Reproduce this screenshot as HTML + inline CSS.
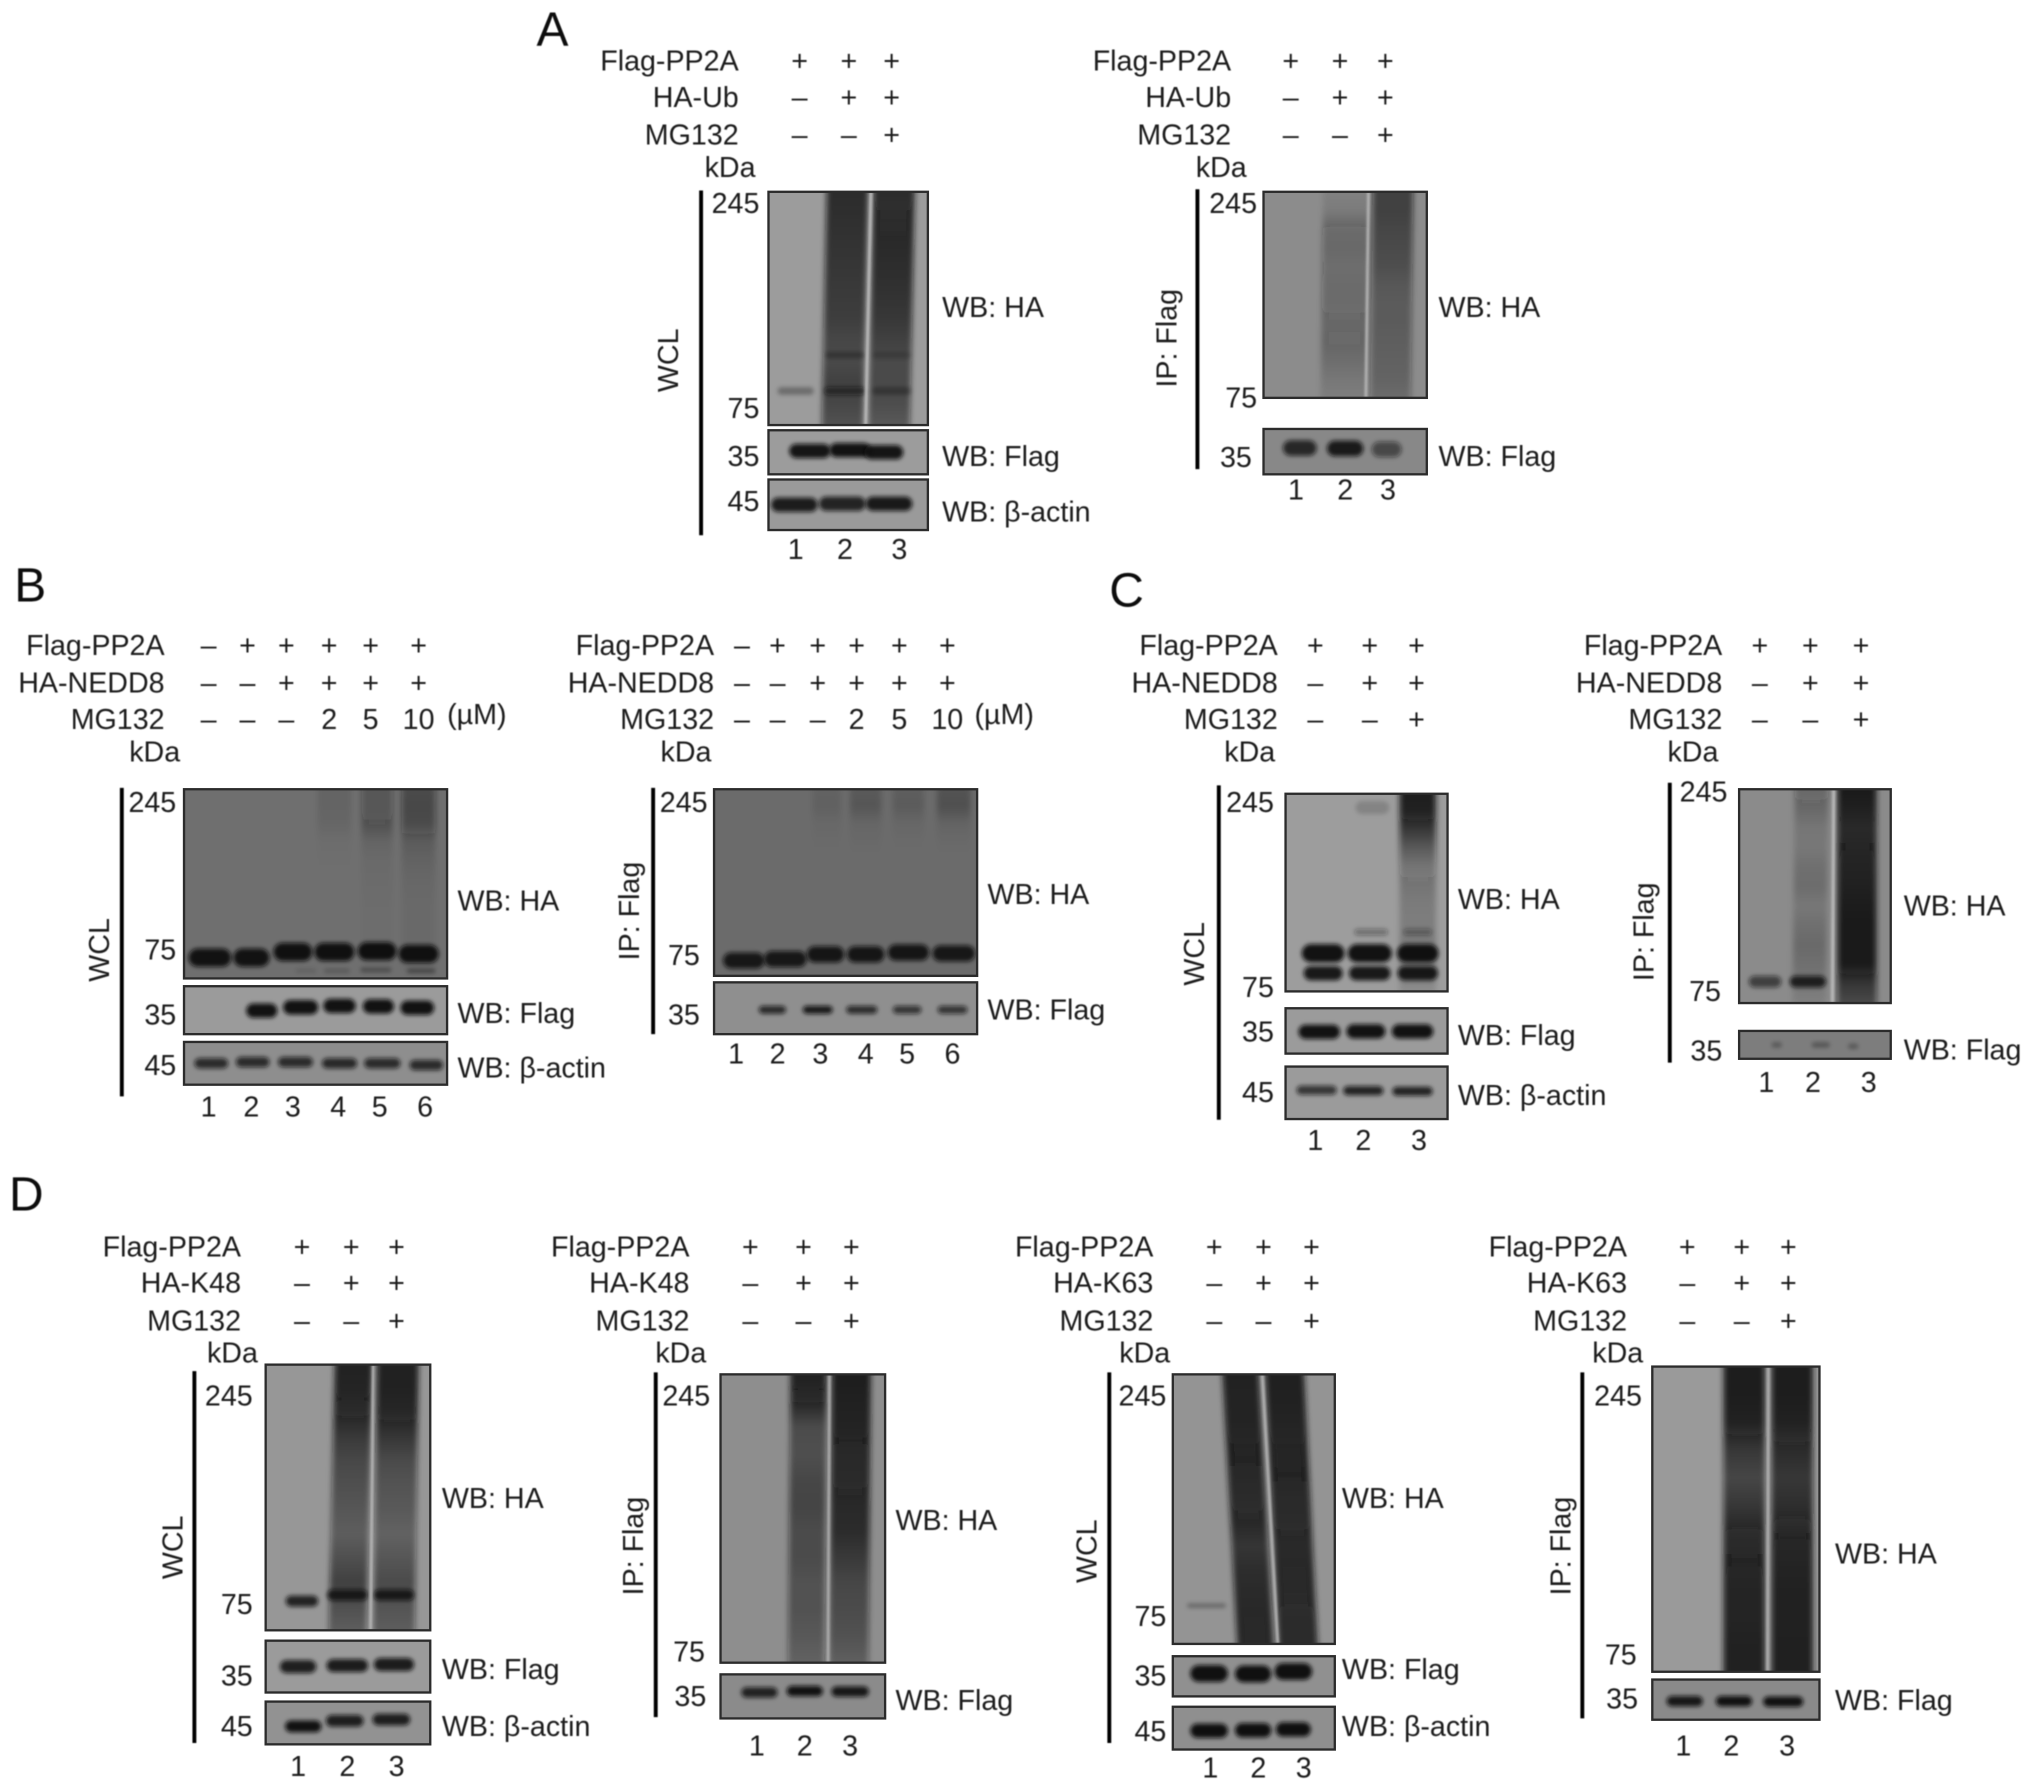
<!DOCTYPE html>
<html lang="en">
<head>
<meta charset="utf-8">
<title>Western blots: PP2A ubiquitination and neddylation</title>
<style>
html,body{margin:0;padding:0;background:#fff}
svg{display:block}
text{font-family:"Liberation Sans",sans-serif;font-size:22.1px;fill:#1c1c1c}
.e{text-anchor:end}
.m{text-anchor:middle}
.p{font-size:37px;fill:#111}
</style>
</head>
<body>
<svg id="figure" xmlns="http://www.w3.org/2000/svg" width="2032" height="1791" viewBox="0 0 1568 1382" preserveAspectRatio="none">
<defs id="defs">
<filter id="bandBlur" x="-30%" y="-100%" width="160%" height="300%"><feGaussianBlur stdDeviation="1.7"/></filter>
<filter id="smearBlur" x="-30%" y="-5%" width="160%" height="110%"><feGaussianBlur stdDeviation="2.2"/></filter>
<filter id="gapBlur" x="-200%" y="-5%" width="500%" height="110%"><feGaussianBlur stdDeviation="0.9"/></filter>
<filter id="soft" x="-5%" y="-5%" width="110%" height="110%"><feGaussianBlur stdDeviation="0.35"/></filter>
</defs>
<g id="blots"></g>
<g id="labels" filter="url(#soft)">
<text x="414" y="35" class="p">A</text>
<text x="11" y="464" class="p">B</text>
<text x="856" y="468" class="p">C</text>
<text x="7" y="934" class="p">D</text>

<!-- Panel A left -->
<text x="570" y="54.5" class="e">Flag-PP2A</text>
<text x="570" y="82.5" class="e">HA-Ub</text>
<text x="570" y="111.5" class="e">MG132</text>
<text x="583" y="136.5" class="e">kDa</text>
<line x1="541" y1="147" x2="541" y2="413" stroke="#000" stroke-width="3"/>
<text transform="translate(523 278) rotate(-90)" class="m">WCL</text>
<text x="727" y="244.5">WB: HA</text>
<text x="727" y="359.5">WB: Flag</text>
<text x="727" y="402.5">WB: β-actin</text>

<!-- Panel A right -->
<text x="950" y="54.5" class="e">Flag-PP2A</text>
<text x="950" y="82.5" class="e">HA-Ub</text>
<text x="950" y="111.5" class="e">MG132</text>
<text x="962" y="136.5" class="e">kDa</text>
<line x1="924" y1="146" x2="924" y2="362" stroke="#000" stroke-width="3"/>
<text transform="translate(908 261) rotate(-90)" class="m">IP: Flag</text>
<text x="1110" y="244.5">WB: HA</text>
<text x="1110" y="359.5">WB: Flag</text>

<!-- Panel B left -->
<text x="127" y="505.5" class="e">Flag-PP2A</text>
<text x="127" y="534.5" class="e">HA-NEDD8</text>
<text x="127" y="562.5" class="e">MG132</text>
<text x="345" y="558.5">(µM)</text>
<text x="139" y="587.5" class="e">kDa</text>
<line x1="94" y1="608" x2="94" y2="846" stroke="#000" stroke-width="3"/>
<text transform="translate(84 733) rotate(-90)" class="m">WCL</text>
<text x="353" y="702.5">WB: HA</text>
<text x="353" y="789.5">WB: Flag</text>
<text x="353" y="831.5">WB: β-actin</text>

<!-- Panel B right -->
<text x="551" y="505.5" class="e">Flag-PP2A</text>
<text x="551" y="534.5" class="e">HA-NEDD8</text>
<text x="551" y="562.5" class="e">MG132</text>
<text x="752" y="558.5">(µM)</text>
<text x="549" y="587.5" class="e">kDa</text>
<line x1="504" y1="608" x2="504" y2="798" stroke="#000" stroke-width="3"/>
<text transform="translate(493 703) rotate(-90)" class="m">IP: Flag</text>
<text x="762" y="697.5">WB: HA</text>
<text x="762" y="786.5">WB: Flag</text>

<!-- Panel C left -->
<text x="986" y="505.5" class="e">Flag-PP2A</text>
<text x="986" y="534.5" class="e">HA-NEDD8</text>
<text x="986" y="562.5" class="e">MG132</text>
<text x="984" y="587.5" class="e">kDa</text>
<line x1="940.5" y1="606" x2="940.5" y2="864" stroke="#000" stroke-width="3"/>
<text transform="translate(929 736) rotate(-90)" class="m">WCL</text>
<text x="1125" y="701.5">WB: HA</text>
<text x="1125" y="806.5">WB: Flag</text>
<text x="1125" y="852.5">WB: β-actin</text>

<!-- Panel C right -->
<text x="1329" y="505.5" class="e">Flag-PP2A</text>
<text x="1329" y="534.5" class="e">HA-NEDD8</text>
<text x="1329" y="562.5" class="e">MG132</text>
<text x="1326" y="587.5" class="e">kDa</text>
<line x1="1288.5" y1="604" x2="1288.5" y2="820" stroke="#000" stroke-width="3"/>
<text transform="translate(1276 719) rotate(-90)" class="m">IP: Flag</text>
<text x="1469" y="706.5">WB: HA</text>
<text x="1469" y="817.5">WB: Flag</text>

<!-- Panel D 1 -->
<text x="186" y="969.5" class="e">Flag-PP2A</text>
<text x="186" y="997.5" class="e">HA-K48</text>
<text x="186" y="1026.5" class="e">MG132</text>
<text x="199" y="1051.5" class="e">kDa</text>
<line x1="150" y1="1058" x2="150" y2="1345" stroke="#000" stroke-width="3"/>
<text transform="translate(141 1194) rotate(-90)" class="m">WCL</text>
<text x="341" y="1163.5">WB: HA</text>
<text x="341" y="1295.5">WB: Flag</text>
<text x="341" y="1339.5">WB: β-actin</text>

<!-- Panel D 2 -->
<text x="532" y="969.5" class="e">Flag-PP2A</text>
<text x="532" y="997.5" class="e">HA-K48</text>
<text x="532" y="1026.5" class="e">MG132</text>
<text x="545" y="1051.5" class="e">kDa</text>
<line x1="506" y1="1059" x2="506" y2="1325" stroke="#000" stroke-width="3"/>
<text transform="translate(496 1193) rotate(-90)" class="m">IP: Flag</text>
<text x="691" y="1180.5">WB: HA</text>
<text x="691" y="1319.5">WB: Flag</text>

<!-- Panel D 3 -->
<text x="890" y="969.5" class="e">Flag-PP2A</text>
<text x="890" y="997.5" class="e">HA-K63</text>
<text x="890" y="1026.5" class="e">MG132</text>
<text x="903" y="1051.5" class="e">kDa</text>
<line x1="856" y1="1059" x2="856" y2="1345" stroke="#000" stroke-width="3"/>
<text transform="translate(846 1197) rotate(-90)" class="m">WCL</text>
<text x="1035.5" y="1163.5">WB: HA</text>
<text x="1035.5" y="1295.5">WB: Flag</text>
<text x="1035.5" y="1339.5">WB: β-actin</text>

<!-- Panel D 4 -->
<text x="1255.5" y="969.5" class="e">Flag-PP2A</text>
<text x="1255.5" y="997.5" class="e">HA-K63</text>
<text x="1255.5" y="1026.5" class="e">MG132</text>
<text x="1268" y="1051.5" class="e">kDa</text>
<line x1="1221" y1="1059" x2="1221" y2="1326" stroke="#000" stroke-width="3"/>
<text transform="translate(1212 1193) rotate(-90)" class="m">IP: Flag</text>
<text x="1416" y="1206.5">WB: HA</text>
<text x="1416" y="1319.5">WB: Flag</text>
</g>
</svg>
<script>
/* ---------- treatment tables and tick labels ---------- */
const threeLaneSigns = [['+','+','+'],['–','+','+'],['–','–','+']];
const sixLaneSigns = [['–','+','+','+','+','+'],['–','–','+','+','+','+'],['–','–','–','2','5','10']];
const threeLaneNumbers = ['1','2','3'];
const sixLaneNumbers = ['1','2','3','4','5','6'];
const wclTicks = ['245','75','35','45'];
const ipTicks = ['245','75','35'];

/* ---------- band migration (Rf, 0 = top of blot, 1 = bottom) and density (0..1) ---------- */
const aWclHaBandRf = [0.854,0.854,0.854];
const aWclHaBandDensity = [0.3,0.6,0.3];
const aWclHaUpperRf = [0.70,0.70];
const aWclHaUpperDensity = [0.3,0.18];
const aWclFlagRf = [0.47,0.45,0.5];
const aWclFlagDensity = [0.95,0.97,0.95];
const aWclActinRf = [0.5,0.48,0.48];
const aWclActinDensity = [0.9,0.85,0.92];
const aIpFlagRf = [0.42,0.43,0.45];
const aIpFlagDensity = [0.8,0.9,0.55];

const bWclHaRf = [0.89,0.89,0.86,0.86,0.856,0.87];
const bWclHaDensity = [0.95,0.95,0.97,0.97,0.98,0.97];
const bWclHaLowerRf = [0.96,0.96,0.955,0.96];
const bWclHaLowerDensity = [0.12,0.2,0.32,0.38];
const bWclFlagRf = [0.51,0.44,0.41,0.42,0.45];
const bWclFlagDensity = [0.97,0.97,0.97,0.97,0.97];
const bWclActinRf = [0.5,0.47,0.47,0.5,0.5,0.54];
const bWclActinDensity = [0.78,0.78,0.78,0.8,0.78,0.78];
const bIpHaRf = [0.918,0.91,0.885,0.885,0.875,0.88];
const bIpHaDensity = [0.9,0.9,0.92,0.92,0.92,0.9];
const bIpFlagRf = [0.53,0.53,0.53,0.53,0.53];
const bIpFlagDensity = [0.8,0.92,0.78,0.72,0.72];

const cWclHaUpperRf = [0.807,0.807,0.807];
const cWclHaUpperDensity = [0.97,0.97,0.97];
const cWclHaLowerRf = [0.908,0.908,0.908];
const cWclHaLowerDensity = [0.92,0.92,0.92];
const cWclHaFaintRf = [0.70,0.70];
const cWclHaFaintDensity = [0.35,0.35];
const cWclHaTopRf = [0.07];
const cWclHaTopDensity = [0.16];
const cWclFlagRf = [0.52,0.51,0.51];
const cWclFlagDensity = [0.97,0.97,0.97];
const cWclActinRf = [0.45,0.46,0.47];
const cWclActinDensity = [0.72,0.85,0.85];
const cIpHaRf = [0.90,0.90];
const cIpHaDensity = [0.62,0.85];
const cIpFlagRf = [0.5,0.5,0.55];
const cIpFlagDensity = [0.3,0.32,0.3];

const dK48WclBandRf = [0.89,0.867,0.867];
const dK48WclBandDensity = [0.85,0.85,0.85];
const dK48WclFlagRf = [0.5,0.48,0.46];
const dK48WclFlagDensity = [0.88,0.9,0.9];
const dK48WclActinRf = [0.58,0.45,0.42];
const dK48WclActinDensity = [0.97,0.88,0.88];
const dK48IpFlagRf = [0.41,0.38,0.39];
const dK48IpFlagDensity = [0.85,0.97,0.92];

const dK63WclBandRf = [0.858];
const dK63WclBandDensity = [0.3];
const dK63WclFlagRf = [0.43,0.44,0.38];
const dK63WclFlagDensity = [0.98,0.98,0.98];
const dK63WclActinRf = [0.56,0.55,0.53];
const dK63WclActinDensity = [0.98,0.98,0.98];
const dK63IpFlagRf = [0.54,0.54,0.55];
const dK63IpFlagDensity = [0.92,0.97,0.97];

/* ---------- smear density profiles, sampled evenly from top to bottom of the blot ---------- */
const aWclSmear2 = [0.8,0.78,0.76,0.74,0.72,0.7,0.68,0.62,0.6,0.66,0.62,0.55];
const aWclSmear3 = [0.85,0.83,0.82,0.8,0.78,0.75,0.72,0.66,0.6,0.6,0.58,0.5];
const aIpSmear2 = [0.08,0.12,0.3,0.32,0.28,0.3,0.3,0.26,0.28,0.22,0.15,0.1];
const aIpSmear3 = [0.62,0.62,0.58,0.55,0.52,0.45,0.42,0.42,0.4,0.38,0.36,0.3];
const bWclSmear5 = [0.3,0.3,0.28,0.1,0.05,0.04,0.03,0.02,0.02,0.02,0.02,0];
const bWclSmear6 = [0.42,0.45,0.42,0.18,0.12,0.08,0.06,0.05,0.05,0.05,0.04,0];
const bWclSmear4 = [0.1,0.1,0.08,0.02,0.01,0,0,0,0,0,0,0];
const bIpSmear3 = [0.08,0.1,0.03,0.01,0,0,0,0,0,0,0,0];
const bIpSmear4 = [0.16,0.2,0.05,0.02,0,0,0,0,0,0,0,0];
const bIpSmear5 = [0.12,0.15,0.04,0.01,0,0,0,0,0,0,0,0];
const bIpSmear6 = [0.22,0.26,0.07,0.02,0,0,0,0,0,0,0,0];
const cWclSmear3 = [0.95,0.92,0.72,0.5,0.32,0.26,0.22,0.2,0.22,0.25,0.2,0.1];
const cIpSmear2 = [0.32,0.25,0.15,0.14,0.2,0.22,0.14,0.2,0.24,0.2,0.14,0.08];
const cIpSmear3 = [0.97,0.92,0.85,0.88,0.9,0.92,0.95,0.97,0.97,0.97,0.7,0.55];
const dK48WclSmear2 = [0.92,0.9,0.85,0.7,0.6,0.55,0.5,0.45,0.55,0.65,0.55,0.45];
const dK48WclSmear3 = [0.92,0.92,0.88,0.72,0.58,0.52,0.48,0.42,0.5,0.58,0.52,0.45];
const dK48IpSmear2 = [0.92,0.85,0.55,0.52,0.58,0.6,0.55,0.55,0.5,0.5,0.45,0.38];
const dK48IpSmear3 = [0.95,0.92,0.9,0.86,0.85,0.8,0.78,0.68,0.58,0.55,0.5,0.4];
const dK63WclSmear2 = [0.92,0.9,0.9,0.88,0.87,0.85,0.82,0.72,0.78,0.8,0.82,0.82];
const dK63WclSmear3 = [0.93,0.92,0.9,0.88,0.88,0.86,0.85,0.8,0.82,0.82,0.85,0.85];
const dK63IpSmear2 = [0.95,0.95,0.92,0.72,0.62,0.72,0.85,0.88,0.9,0.9,0.92,0.92];
const dK63IpSmear3 = [0.95,0.95,0.92,0.8,0.72,0.78,0.88,0.9,0.92,0.92,0.93,0.93];

/* ---------- blot layout (geometry only) ---------- */
const blotLayout = [
 {name:'a-wcl-ha',x:593,y:148,w:123,h:180,bg:'#9c9c9c',
  smears:[{top:654,bottom:650,w:32,data:aWclSmear2},{top:690,bottom:686,w:32,data:aWclSmear3}],
  gaps:[{top:672,bottom:668,w:2.5}],
  bands:[{xs:[614,652,688],ws:[28,32,30],h:6,rf:aWclHaBandRf,density:aWclHaBandDensity},
         {xs:[652,688],ws:[30,30],h:5,rf:aWclHaUpperRf,density:aWclHaUpperDensity}]},
 {name:'a-wcl-flag',x:593,y:332,w:123,h:34,bg:'#9c9c9c',
  bands:[{xs:[625,656,682],ws:[32,32,30],h:11,rf:aWclFlagRf,density:aWclFlagDensity}]},
 {name:'a-wcl-actin',x:593,y:370,w:123,h:39,bg:'#9a9a9a',
  bands:[{xs:[613,650,686],ws:[36,36,36],h:11,rf:aWclActinRf,density:aWclActinDensity}]},
 {name:'a-ip-ha',x:975,y:148,w:126,h:159,bg:'#8c8c8c',
  smears:[{top:1039,bottom:1037,w:36,data:aIpSmear2},{top:1075,bottom:1073,w:31,data:aIpSmear3}],
  gaps:[{top:1056,bottom:1054,w:2}]},
 {name:'a-ip-flag',x:975,y:331,w:126,h:35,bg:'#888888',
  bands:[{xs:[1003,1038,1070],ws:[26,28,23],h:12,rf:aIpFlagRf,density:aIpFlagDensity}]},

 {name:'b-wcl-ha',x:142,y:609,w:203,h:146,bg:'#6f6f6f',
  smears:[{top:258,bottom:258,w:26,data:bWclSmear4},{top:291,bottom:291,w:24,data:bWclSmear5},{top:323,bottom:323,w:26,data:bWclSmear6}],
  bands:[{xs:[162,194,226,258,291,323],ws:[33,28,30,31,30,31],h:14,rf:bWclHaRf,density:bWclHaDensity},
         {xs:[236,260,290,325],ws:[16,20,24,22],h:3.5,rf:bWclHaLowerRf,density:bWclHaLowerDensity}]},
 {name:'b-wcl-flag',x:142,y:761,w:203,h:37,bg:'#9b9b9b',
  bands:[{xs:[202,232,262,292,322],ws:[24,27,25,24,26],h:11,rf:bWclFlagRf,density:bWclFlagDensity}]},
 {name:'b-wcl-actin',x:142,y:804,w:203,h:33,bg:'#8e8e8e',
  bands:[{xs:[163,195,228,262,295,329],ws:[26,26,27,27,28,26],h:8,rf:bWclActinRf,density:bWclActinDensity}]},
 {name:'b-ip-ha',x:551,y:609,w:203,h:144,bg:'#6b6b6b',
  smears:[{top:638,bottom:638,w:22,data:bIpSmear3},{top:668,bottom:668,w:24,data:bIpSmear4},{top:701,bottom:701,w:24,data:bIpSmear5},{top:736,bottom:736,w:26,data:bIpSmear6}],
  bands:[{xs:[574,606,637,668,701,736],ws:[32,33,29,29,32,33],h:12.5,rf:bIpHaRf,density:bIpHaDensity}]},
 {name:'b-ip-flag',x:551,y:758,w:203,h:40,bg:'#8f8f8f',
  bands:[{xs:[596,631,665,700,735],ws:[21,23,24,22,23],h:6,rf:bIpFlagRf,density:bIpFlagDensity}]},

 {name:'c-wcl-ha',x:992,y:612.5,w:125,h:152.5,bg:'#9d9d9d',
  smears:[{top:1094,bottom:1094,w:28,data:cWclSmear3}],
  bands:[{xs:[1021,1057,1094],ws:[33,34,32],h:14,rf:cWclHaUpperRf,density:cWclHaUpperDensity},
         {xs:[1021,1057,1094],ws:[30,32,31],h:11,rf:cWclHaLowerRf,density:cWclHaLowerDensity},
         {xs:[1058,1094],ws:[26,22],h:5,rf:cWclHaFaintRf,density:cWclHaFaintDensity},
         {xs:[1059],ws:[26],h:10,rf:cWclHaTopRf,density:cWclHaTopDensity}]},
 {name:'c-wcl-flag',x:992,y:778,w:125,h:35,bg:'#9b9b9b',
  bands:[{xs:[1018,1054,1090],ws:[32,30,32],h:11,rf:cWclFlagRf,density:cWclFlagDensity}]},
 {name:'c-wcl-actin',x:992,y:823,w:125,h:40.5,bg:'#9b9b9b',
  bands:[{xs:[1016,1052,1090],ws:[31,31,31],h:7,rf:cWclActinRf,density:cWclActinDensity}]},
 {name:'c-ip-ha',x:1342,y:609,w:117,h:165,bg:'#8b8b8b',
  smears:[{top:1398,bottom:1396,w:26,data:cIpSmear2},{top:1433,bottom:1433,w:30,data:cIpSmear3}],
  gaps:[{top:1415,bottom:1414,w:2.5}],
  bands:[{xs:[1362,1395],ws:[25,28],h:9,rf:cIpHaRf,density:cIpHaDensity}]},
 {name:'c-ip-flag',x:1342,y:795.5,w:117,h:21.5,bg:'#7d7d7d',
  bands:[{xs:[1371,1405,1430],ws:[8,14,8],h:4,rf:cIpFlagRf,density:cIpFlagDensity}]},

 {name:'d-k48-wcl-ha',x:205,y:1053,w:127,h:205,bg:'#979797',
  smears:[{top:273,bottom:268,w:29,data:dK48WclSmear2},{top:307,bottom:304,w:32,data:dK48WclSmear3}],
  gaps:[{top:288,bottom:286,w:2}],
  bands:[{xs:[233,268,304],ws:[25,31,31],h:8.5,rf:dK48WclBandRf,density:dK48WclBandDensity}]},
 {name:'d-k48-wcl-flag',x:205,y:1266,w:127,h:40,bg:'#9b9b9b',
  bands:[{xs:[230,268,304],ws:[28,32,31],h:10,rf:dK48WclFlagRf,density:dK48WclFlagDensity}]},
 {name:'d-k48-wcl-actin',x:205,y:1313,w:127,h:33,bg:'#929292',
  bands:[{xs:[234,266,302],ws:[28,29,29],h:9,rf:dK48WclActinRf,density:dK48WclActinDensity}]},
 {name:'d-k48-ip-ha',x:556,y:1060.5,w:127,h:222.5,bg:'#8e8e8e',
  smears:[{top:624,bottom:622,w:28,data:dK48IpSmear2},{top:657,bottom:655,w:30,data:dK48IpSmear3}],
  gaps:[{top:640,bottom:639,w:1.8}]},
 {name:'d-k48-ip-flag',x:556,y:1292,w:127,h:34,bg:'#8b8b8b',
  bands:[{xs:[586,621,656],ws:[28,28,29],h:8,rf:dK48IpFlagRf,density:dK48IpFlagDensity}]},

 {name:'d-k63-wcl-ha',x:905,y:1060.5,w:125,h:208,bg:'#949494',
  smears:[{top:957,bottom:969,w:28,data:dK63WclSmear2},{top:991,bottom:1002,w:30,data:dK63WclSmear3}],
  gaps:[{top:974,bottom:986,w:2}],
  bands:[{xs:[931],ws:[30],h:3.5,rf:dK63WclBandRf,density:dK63WclBandDensity}]},
 {name:'d-k63-wcl-flag',x:905,y:1278,w:125,h:31,bg:'#909090',
  bands:[{xs:[933,967,998],ws:[29,28,29],h:13,rf:dK63WclFlagRf,density:dK63WclFlagDensity}]},
 {name:'d-k63-wcl-actin',x:905,y:1317,w:125,h:33,bg:'#8f8f8f',
  bands:[{xs:[933,967,998],ws:[29,28,27],h:11,rf:dK63WclActinRf,density:dK63WclActinDensity}]},
 {name:'d-k63-ip-ha',x:1275,y:1054.5,w:129,h:235.5,bg:'#9a9a9a',
  smears:[{top:1346,bottom:1346,w:32,data:dK63IpSmear2},{top:1383,bottom:1383,w:32,data:dK63IpSmear3}],
  gaps:[{top:1364.5,bottom:1364,w:1.8}]},
 {name:'d-k63-ip-flag',x:1275,y:1296,w:129,h:31,bg:'#8a8a8a',
  bands:[{xs:[1300,1338,1376],ws:[28,28,31],h:8,rf:dK63IpFlagRf,density:dK63IpFlagDensity}]}
];

const panelLayout = [
 {name:'a-wcl',signs:threeLaneSigns,signX:[617,655,688],rowY:[47,75,104],numbers:threeLaneNumbers,numX:[614,652,694],numY:424,ticks:wclTicks,tickOrder:[0,1,2,3],tickX:[586,586,586,586],tickY:[157,315,352,387]},
 {name:'a-ip',signs:threeLaneSigns,signX:[996,1034,1069],rowY:[47,75,104],numbers:threeLaneNumbers,numX:[1000,1038,1071],numY:378,ticks:ipTicks,tickOrder:[0,1,2],tickX:[970,970,966],tickY:[157,307,353]},
 {name:'b-wcl',signs:sixLaneSigns,signX:[161,191,221,254,286,323],rowY:[498,527,555],numbers:sixLaneNumbers,numX:[161,194,226,261,293,328],numY:854,ticks:wclTicks,tickOrder:[0,1,2,3],tickX:[136,136,136,136],tickY:[619,733,783,822]},
 {name:'b-ip',signs:sixLaneSigns,signX:[572.5,600,631,661,694,731],rowY:[498,527,555],numbers:sixLaneNumbers,numX:[568,600,633,668,700,735],numY:813,ticks:ipTicks,tickOrder:[0,1,2],tickX:[546,540,540],tickY:[619,737,783]},
 {name:'c-wcl',signs:threeLaneSigns,signX:[1015,1057,1093],rowY:[498,527,555],numbers:threeLaneNumbers,numX:[1015,1052,1095],numY:880,ticks:wclTicks,tickOrder:[0,1,2,3],tickX:[983,983,983,983],tickY:[619,762,796,843]},
 {name:'c-ip',signs:threeLaneSigns,signX:[1358,1397,1436],rowY:[498,527,555],numbers:threeLaneNumbers,numX:[1363,1399,1442],numY:835,ticks:ipTicks,tickOrder:[0,1,2],tickX:[1333,1328,1329],tickY:[611,765,811]},
 {name:'d-k48-wcl',signs:threeLaneSigns,signX:[233,271,306],rowY:[962,990,1019],numbers:threeLaneNumbers,numX:[230,268,306],numY:1363,ticks:wclTicks,tickOrder:[0,1,2,3],tickX:[195,195,195,195],tickY:[1077,1238,1293,1332]},
 {name:'d-k48-ip',signs:threeLaneSigns,signX:[579,620,657],rowY:[962,990,1019],numbers:threeLaneNumbers,numX:[584,621,656],numY:1347,ticks:ipTicks,tickOrder:[0,1,2],tickX:[548,544,545],tickY:[1077,1274.5,1309]},
 {name:'d-k63-wcl',signs:threeLaneSigns,signX:[937,975,1012],rowY:[962,990,1019],numbers:threeLaneNumbers,numX:[934,971,1006],numY:1364,ticks:wclTicks,tickOrder:[0,1,2,3],tickX:[900,900,900,900],tickY:[1077,1247,1293,1336]},
 {name:'d-k63-ip',signs:threeLaneSigns,signX:[1302,1344,1380],rowY:[962,990,1019],numbers:threeLaneNumbers,numX:[1299,1336,1379],numY:1347,ticks:ipTicks,tickOrder:[0,1,2],tickX:[1267,1263,1264],tickY:[1077,1277,1311]}
];

/* ---------- drawing ---------- */
const SVG_NS = 'http://www.w3.org/2000/svg';
const root = document.getElementById('blots');
const labels = document.getElementById('labels');
const defs = document.getElementById('defs');

function rfToY(blot, rf) { return blot.y + rf * blot.h; }
function sampleToOffset(i, n) { return n > 1 ? i / (n - 1) : 0; }

function makeSvg(tag, attrs) {
  const el = document.createElementNS(SVG_NS, tag);
  Object.keys(attrs).forEach(function (k) { el.setAttribute(k, attrs[k]); });
  return el;
}

blotLayout.forEach(function (blot) {
  const clip = makeSvg('clipPath', {id: 'clip-' + blot.name});
  clip.appendChild(makeSvg('rect', {x: blot.x, y: blot.y, width: blot.w, height: blot.h}));
  defs.appendChild(clip);

  const group = makeSvg('g', {'clip-path': 'url(#clip-' + blot.name + ')'});
  
  
  root.appendChild(group);

  const bg = makeSvg('rect', {x: blot.x, y: blot.y, width: blot.w, height: blot.h, fill: blot.bg});
  
  
  group.appendChild(bg);

  (blot.smears || []).forEach(function (smear, si) {
    const id = 'grad-' + blot.name + '-' + si;
    const grad = makeSvg('linearGradient', {id: id, gradientUnits: 'userSpaceOnUse', x1: 0, y1: blot.y, x2: 0, y2: blot.y + blot.h});
    smear.data.forEach(function (d, i) {
      grad.appendChild(makeSvg('stop', {offset: sampleToOffset(i, smear.data.length), 'stop-color': '#141414', 'stop-opacity': d}));
    });
    defs.appendChild(grad);
    const half = smear.w / 2;
    const top = blot.y - 6;
    const bot = blot.y + blot.h + 6;
    const d = 'M' + (smear.top - half) + ' ' + top + 'L' + (smear.top + half) + ' ' + top + 'L' + (smear.bottom + half) + ' ' + bot + 'L' + (smear.bottom - half) + ' ' + bot + 'Z';
    const path = makeSvg('path', {d: d, fill: 'url(#' + id + ')', filter: 'url(#smearBlur)'});
    
    
    group.appendChild(path);
  });

  (blot.bands || []).forEach(function (set) {
    set.xs.forEach(function (cx, i) {
      const w = set.ws[i];
      const r = makeSvg('rect', {
        x: cx - w / 2,
        y: rfToY(blot, set.rf[i]) - set.h / 2,
        width: w,
        height: set.h,
        rx: set.h / 2,
        fill: '#101010',
        'fill-opacity': set.density[i],
        filter: 'url(#bandBlur)'
      });
      
      
      group.appendChild(r);
    });
  });

  (blot.gaps || []).forEach(function (gap) {
    const half = gap.w / 2;
    const gy1 = blot.y;
    const gy2 = blot.y + blot.h;
    const gd = 'M' + (gap.top - half) + ' ' + gy1 + 'L' + (gap.top + half) + ' ' + gy1 + 'L' + (gap.bottom + half) + ' ' + gy2 + 'L' + (gap.bottom - half) + ' ' + gy2 + 'Z';
    const g = makeSvg('path', {d: gd, fill: '#b8b8b8', filter: 'url(#gapBlur)'});
    
    
    group.appendChild(g);
  });

  const frame = makeSvg('rect', {x: blot.x, y: blot.y, width: blot.w, height: blot.h, fill: 'none', stroke: '#2b2b2b', 'stroke-width': 1.8});
  
  
  root.appendChild(frame);
});

panelLayout.forEach(function (panel) {
  panel.signs.forEach(function (row, r) {
    row.forEach(function (s, c) {
      const t = makeSvg('text', {x: panel.signX[c], y: panel.rowY[r] + 7.5, 'class': 'm'});
      t.textContent = s;
      
      
      labels.appendChild(t);
    });
  });
  panel.numbers.forEach(function (n, i) {
    const t = makeSvg('text', {x: panel.numX[i], y: panel.numY + 7.5, 'class': 'm'});
    t.textContent = n;
    
    
    labels.appendChild(t);
  });
  panel.tickOrder.forEach(function (k, i) {
    const t = makeSvg('text', {x: panel.tickX[i], y: panel.tickY[i] + 7.5, 'class': 'e'});
    t.textContent = panel.ticks[k];
    
    
    labels.appendChild(t);
  });
});
</script>
</body>
</html>
